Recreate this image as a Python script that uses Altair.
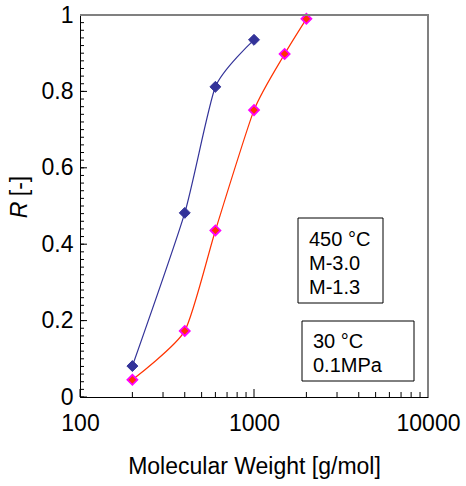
import altair as alt
import pandas as pd

# data
blue_mw = [200, 400, 600, 1000]
blue_r = [0.081, 0.482, 0.812, 0.935]
red_mw = [200, 400, 600, 1000, 1500, 2000]
red_r = [0.045, 0.173, 0.436, 0.751, 0.898, 0.990]

x_labels = [100, 1000, 10000]
y_labels = [0, 0.2, 0.4, 0.6, 0.8, 1.0]
box1_lines = ["450 °C", "M-3.0", "M-1.3"]
box2_lines = ["30 °C", "0.1MPa"]

W, H = 348, 382
FONT = "Liberation Sans"
BLUE = "#333399"
RED = "#FF3300"
MAG = "#FF00FF"

blue_df = pd.DataFrame({"mw": blue_mw, "r": blue_r})
red_df = pd.DataFrame({"mw": red_mw, "r": red_r})

xscale = alt.Scale(type="log", domain=[100, 10000])
yscale = alt.Scale(domain=[0, 1], nice=False)

xenc = alt.X("mw:Q", scale=xscale,
             axis=alt.Axis(values=x_labels, format="~g", ticks=False, tickSize=0,
                           grid=False, labelFontSize=23, labelFont=FONT, labelColor="#000",
                           labelPadding=15, domainColor="#000", title="Molecular Weight [g/mol]",
                           titleFont=FONT, titleFontSize=23, titleFontWeight="normal",
                           titleColor="#000", titlePadding=20, labelFlush=False))
yenc = alt.Y("r:Q", scale=yscale,
             axis=alt.Axis(values=y_labels, format="~g", ticks=False, tickSize=0,
                           grid=False, labelFontSize=23, labelFont=FONT, labelColor="#000",
                           labelPadding=7, domainColor="#000", title=None, labelFlush=False))

blue_line = alt.Chart(blue_df).mark_line(color=BLUE, strokeWidth=1.2, interpolate="cardinal", tension=0.4).encode(x=xenc, y=yenc)
red_line = alt.Chart(red_df).mark_line(color=RED, strokeWidth=1.2, interpolate="cardinal", tension=0.4).encode(x="mw:Q", y="r:Q")
blue_pts = alt.Chart(blue_df).mark_point(shape="diamond", filled=True, size=120, color=BLUE, opacity=1,
                                         stroke=BLUE, strokeWidth=1).encode(x="mw:Q", y="r:Q")
red_pts = alt.Chart(red_df).mark_point(shape="diamond", filled=True, size=100, fill=RED, opacity=1,
                                       stroke=MAG, strokeWidth=1.8).encode(x="mw:Q", y="r:Q")

# inward ticks
x_minor = [m * d for d in (100, 1000) for m in range(2, 10)]
x_major = x_labels
y_minor = [round(i * 0.02, 2) for i in range(51)]
y_major = y_labels

xt_minor = alt.Chart(pd.DataFrame({"mw": x_minor})).mark_rule(color="#000", strokeWidth=1).encode(
    x="mw:Q", y=alt.value(H), y2=alt.value(H - 5))
xt_major = alt.Chart(pd.DataFrame({"mw": x_major})).mark_rule(color="#000", strokeWidth=1).encode(
    x="mw:Q", y=alt.value(H), y2=alt.value(H - 8))
yt_minor = alt.Chart(pd.DataFrame({"r": y_minor})).mark_rule(color="#000", strokeWidth=1).encode(
    y="r:Q", x=alt.value(0), x2=alt.value(4))
yt_major = alt.Chart(pd.DataFrame({"r": y_major})).mark_rule(color="#000", strokeWidth=1).encode(
    y="r:Q", x=alt.value(0), x2=alt.value(7))

# top/right frame
top_border = alt.Chart(pd.DataFrame({"a": [0]})).mark_rule(color="#808080", strokeWidth=2).encode(
    x=alt.value(0), x2=alt.value(W + 1), y=alt.value(0))
right_border = alt.Chart(pd.DataFrame({"a": [0]})).mark_rule(color="#808080", strokeWidth=2).encode(
    x=alt.value(W), y=alt.value(-1), y2=alt.value(H))

# y title
r_title = alt.Chart(pd.DataFrame({"t": ["R"]})).mark_text(
    angle=270, font=FONT, fontSize=23, fontStyle="italic", color="#000", baseline="middle", align="center"
).encode(text="t:N", x=alt.value(-60), y=alt.value(195))
r_unit = alt.Chart(pd.DataFrame({"t": ["[-]"]})).mark_text(
    angle=270, font=FONT, fontSize=23, color="#000", baseline="middle", align="center"
).encode(text="t:N", x=alt.value(-60), y=alt.value(171))

# text boxes
box1 = alt.Chart(pd.DataFrame({"a": [0]})).mark_rect(fill="white", stroke="#000", strokeWidth=1).encode(
    x=alt.value(218), x2=alt.value(303), y=alt.value(203), y2=alt.value(288))
box2 = alt.Chart(pd.DataFrame({"a": [0]})).mark_rect(fill="white", stroke="#000", strokeWidth=1).encode(
    x=alt.value(222), x2=alt.value(334), y=alt.value(306), y2=alt.value(366))

def textline(s, xpix, ypix):
    return alt.Chart(pd.DataFrame({"t": [s]})).mark_text(
        font=FONT, fontSize=20, color="#000", align="left", baseline="alphabetic"
    ).encode(text="t:N", x=alt.value(xpix), y=alt.value(ypix))

texts = [textline(s, 229, yy) for s, yy in zip(box1_lines, [231, 255, 278.5])]
texts += [textline(s, 233, yy) for s, yy in zip(box2_lines, [333, 357])]

chart = alt.layer(
    blue_line, red_line, xt_minor, xt_major, yt_minor, yt_major,
    box1, box2, *texts, blue_pts, red_pts, top_border, right_border, r_title, r_unit
).properties(
    width=W, height=H,
    autosize=alt.AutoSizeParams(type="none"),
    padding={"left": 80, "top": 15, "right": 38, "bottom": 89},
).configure_view(stroke=None).configure(background="white")

chart.save("out.html", embed_options={"renderer": "svg", "actions": False})
